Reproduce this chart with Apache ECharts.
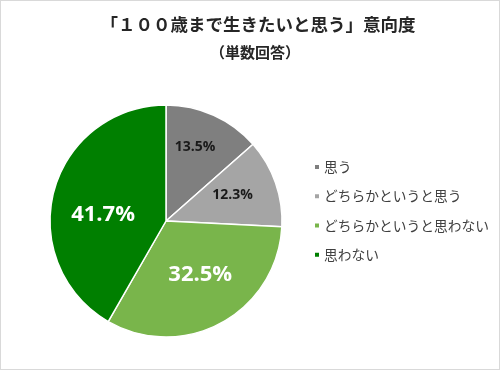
<!DOCTYPE html>
<html>
<head>
<meta charset="utf-8">
<script src="https://cdn.jsdelivr.net/npm/echarts@6/dist/echarts.min.js"></script>
<style>
html,body{margin:0;padding:0;background:#fff;}
#wrap{position:relative;width:500px;height:370px;box-sizing:border-box;border:1px solid #d9d9d9;}
#c{position:absolute;left:0;top:0;width:498px;height:368px;}
</style>
</head>
<body>
<div id="wrap"><div id="c"></div></div>
<script>
var categories = ['思う', 'どちらかというと思う', 'どちらかというと思わない', '思わない'];
var values = [13.5, 12.3, 32.5, 41.7];
var colors = ['#7f7f7f', '#a5a5a5', '#79b54b', '#007f00'];
var labelColors = ['#1a1a1a', '#1a1a1a', '#ffffff', '#ffffff'];
var labelSizes = [14, 14, 22, 22];
var labelOffsets = [[4, -18], [9, -6], [5, 0], [-4, 9]];

var chart = echarts.init(document.getElementById('c'));
chart.setOption({
  animation: false,
  title: [{
    text: '「１００歳まで生きたいと思う」意向度',
    left: 252, top: 10, textAlign: 'center',
    textStyle: {fontFamily: 'Noto Sans CJK JP', fontSize: 17.5, fontWeight: 'bold', color: '#262626'}
  }, {
    text: '（単数回答）',
    left: 249, top: 39, textAlign: 'center',
    textStyle: {fontFamily: 'Noto Sans CJK JP', fontSize: 15, fontWeight: 'bold', color: '#262626'}
  }],
  legend: {
    orient: 'vertical',
    left: 307, top: 154,
    itemWidth: 6, itemHeight: 6, itemGap: 15.5,
    icon: 'rect',
    textStyle: {fontFamily: 'Noto Sans CJK JP', fontSize: 13.75, color: '#404040', padding: [0, 0, 0, -1]},
    data: categories
  },
  series: [{
    type: 'pie',
    center: [165, 220],
    radius: [0, 116],
    startAngle: 90,
    clockwise: true,
    itemStyle: {borderColor: '#fff', borderWidth: 1.5},
    label: {show: true, position: 'inside'},
    labelLine: {show: false},
    emphasis: {disabled: true},
    data: categories.map(function (n, i) {
      return {
        name: n, value: values[i],
        itemStyle: {color: colors[i]},
        label: {
          formatter: values[i].toFixed(1) + '%',
          color: labelColors[i], fontSize: labelSizes[i], fontWeight: 'bold',
          fontFamily: 'Open Sans', offset: labelOffsets[i]
        }
      };
    })
  }]
});
</script>
</body>
</html>
